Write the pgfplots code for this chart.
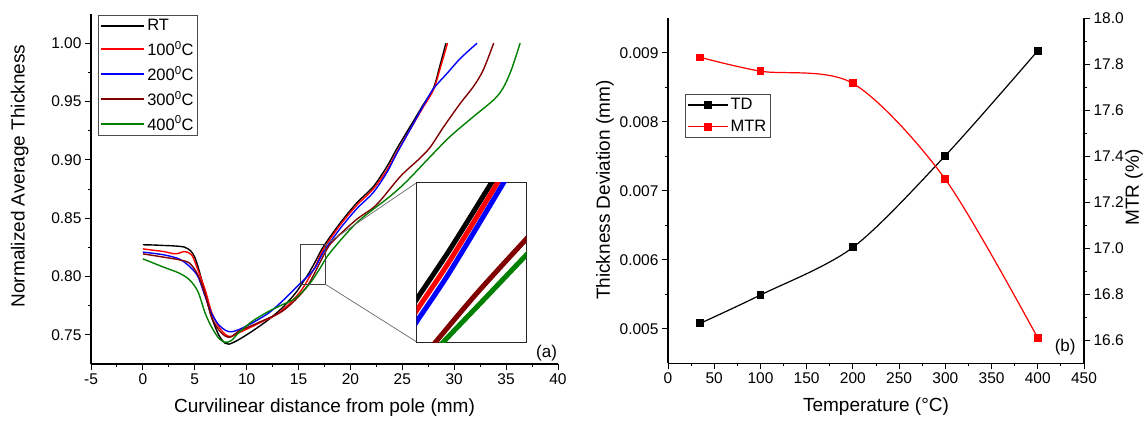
\documentclass[border=0pt]{standalone}
\usepackage{pgfplots}
\pgfplotsset{compat=1.18}
\usepackage{fontspec}
\setmainfont{Liberation Sans}
\definecolor{brn}{RGB}{128,0,0}
\definecolor{grn}{RGB}{0,128,0}
\begin{document}
\begin{tikzpicture}
\pgfplotsset{
  myaxis/.style={
    scale only axis,
    axis line style={-, line width=1.3pt},
    every outer x axis line/.append style={-},
    every outer y axis line/.append style={-},
    tick style={black, line width=1pt},
    major tick length=6pt, minor tick length=3pt,
    tick align=outside,
    tick label style={font=\fontsize{15.5}{17}\selectfont},
    label style={font=\fontsize{19}{22}\selectfont},
    /pgf/number format/assume math mode=true,
  }
}
% ---------------- panel (a) ----------------
\begin{axis}[myaxis, at={(91pt,57pt)}, anchor=south west, width=467pt, height=350pt,
  xmin=-5, xmax=40, ymin=0.725, ymax=1.025,
  axis x line*=bottom, axis y line*=left,
  xtick={-5,0,5,10,15,20,25,30,35,40},
  ytick={0.75,0.8,0.85,0.9,0.95,1.0},
  minor x tick num=1, minor y tick num=1,
  yticklabel style={/pgf/number format/.cd, fixed, fixed zerofill, precision=2},
  xlabel={Curvilinear distance from pole (mm)},
  ylabel={Normalized Average Thickness},
  xlabel style={at={(axis description cs:0.5,-0.1257)}, anchor=center},
  ylabel style={at={(axis description cs:-0.1527,0.537)}, anchor=center},
  legend style={at={(axis description cs:0.0156,0.997)}, anchor=north west,
    draw=black!70, line width=0.8pt, font=\fontsize{16.5}{19}\selectfont,
    cells={anchor=west}, inner sep=2pt, row sep=5pt},
  legend image code/.code={\draw[#1, line width=1.6pt] (0pt,0pt) -- (43pt,0pt);},
]
\addplot[draw=black, line width=1.4pt, smooth] coordinates {
(0,0.8272) (1,0.8270) (2,0.8266) (3,0.8262) (4,0.8252) (4.6,0.822) (5.0,0.8165)
(5.4,0.8057) (6.0,0.7857) (6.6,0.7657) (7.3,0.750) (7.9,0.7429) (8.3,0.742)
(9.2,0.7457) (10.5,0.7529) (12.1,0.763) (13.4,0.7729) (14.7,0.7857) (15.3,0.7935)
(16.0,0.803) (16.6,0.8125) (17.4,0.8257) (19.0,0.8457) (20.6,0.863) (22.2,0.877)
(23.5,0.894) (24.5,0.910) (25.75,0.9285) (27.0,0.947) (28.0,0.9614) (28.6,0.98) (29.2,1.00)};
\addlegendentry{RT}
\addplot[draw=red, line width=1.4pt, smooth] coordinates {
(0,0.8237) (1,0.8225) (2,0.8214) (3.0,0.8195) (3.5,0.8200) (4.0,0.8214) (4.7,0.8186)
(5.3,0.8057) (6.0,0.7886) (6.6,0.770) (7.3,0.757) (8.0,0.750) (8.5,0.7486) (9.2,0.7515)
(10.5,0.757) (11.5,0.7614) (12.8,0.767) (14.0,0.7757) (15.3,0.7886) (16.6,0.8085)
(17.4,0.8235) (19.0,0.844) (20.6,0.861) (22.2,0.875) (23.5,0.891) (24.5,0.907)
(25.75,0.926) (27.0,0.945) (28.0,0.960) (28.7,0.98) (29.35,1.00)};
\addlegendentry{100\textsuperscript{0}C}
\addplot[draw=blue, line width=1.4pt, smooth] coordinates {
(0,0.8209) (2,0.8186) (3.5,0.815) (4.5,0.8086) (5.3,0.80) (6.0,0.7829) (6.6,0.7686)
(7.3,0.7586) (8.0,0.7537) (8.5,0.7526) (9.2,0.7543) (10.5,0.76) (12.1,0.7686)
(13.4,0.7786) (14.7,0.79) (16.0,0.8014) (16.6,0.8075) (17.4,0.821) (19.0,0.841)
(20.6,0.858) (22.2,0.872) (23.5,0.889) (24.5,0.906) (25.75,0.926) (27.0,0.946)
(28.0,0.961) (29.3,0.974) (30.6,0.987) (32.2,1.00)};
\addlegendentry{200\textsuperscript{0}C}
\addplot[draw=brn, line width=1.4pt, smooth] coordinates {
(0,0.8194) (2,0.8166) (3.5,0.8143) (4.5,0.8114) (5.3,0.8014) (6.0,0.7843) (6.6,0.7657)
(7.3,0.7543) (8.0,0.7486) (8.5,0.7483) (9.2,0.7529) (10.5,0.758) (12.1,0.7643)
(13.4,0.770) (14.7,0.780) (16.0,0.794) (17.7,0.8229) (18.5,0.832) (20.6,0.849)
(22.5,0.8614) (24.8,0.8857) (26.7,0.9014) (27.7,0.911) (29.0,0.9285) (30.6,0.9486)
(31.85,0.9628) (32.8,0.977) (33.8,1.00)};
\addlegendentry{300\textsuperscript{0}C}
\addplot[draw=grn, line width=1.4pt, smooth] coordinates {
(0,0.8151) (2,0.808) (3.5,0.8029) (4.5,0.7971) (5.3,0.7871) (6.0,0.7686) (6.6,0.757)
(7.3,0.7472) (7.9,0.7437) (8.5,0.7449) (9.2,0.7515) (10.5,0.7614) (12.1,0.770)
(13.4,0.7757) (14.7,0.7814) (16.0,0.793) (17.0,0.806) (18.0,0.820) (20.6,0.846)
(23.8,0.8686) (25.4,0.8814) (27.7,0.9028) (29.6,0.920) (31.85,0.937) (33.8,0.9514)
(34.7,0.9614) (35.5,0.977) (36.35,1.00)};
\addlegendentry{400\textsuperscript{0}C}
\draw[black!75, line width=0.8pt] (axis cs:15.15,0.7935) rectangle (axis cs:17.56,0.8271);
\draw[black!60, line width=0.7pt] (axis cs:17.56,0.8271) -- (axis cs:26.4,0.8805);
\draw[black!60, line width=0.7pt] (axis cs:17.56,0.7935) -- (axis cs:26.4,0.7438);
\node[font=\fontsize{17}{20}\selectfont] at (axis cs:38.9,0.7346) {(a)};
\end{axis}
% inset
\begin{axis}[at={(416.7pt,78.7pt)}, anchor=south west, scale only axis,
  width=110pt, height=159.6pt, xmin=0, xmax=1, ymin=0, ymax=1,
  xtick=\empty, ytick=\empty, axis line style={line width=1.3pt, black!85},
  axis background/.style={fill=white}]
\addplot[black, line width=5pt, smooth] coordinates {(-0.1,0.155) (0,0.27) (0.3,0.58) (0.68,1.0) (0.75,1.08)};
\addplot[red, line width=5pt, smooth] coordinates {(-0.1,0.085) (0,0.20) (0.3,0.51) (0.735,1.0) (0.8,1.08)};
\addplot[blue, line width=5pt, smooth] coordinates {(-0.1,0.015) (0,0.13) (0.3,0.44) (0.79,1.0) (0.86,1.08)};
\addplot[brn, line width=5pt, smooth] coordinates {(0.08,-0.08) (0.17,0) (0.55,0.31) (1.0,0.65) (1.1,0.72)};
\addplot[grn, line width=5pt, smooth] coordinates {(0.15,-0.08) (0.24,0) (0.6,0.26) (1.0,0.55) (1.1,0.62)};
\end{axis}
% ---------------- panel (b) ----------------
\begin{axis}[myaxis, at={(668pt,57.7pt)}, anchor=south west, width=416pt, height=345pt,
  xmin=0, xmax=450, ymin=0.0045, ymax=0.0095,
  axis x line*=bottom, axis y line*=left,
  xtick={0,50,100,150,200,250,300,350,400,450},
  ytick={0.005,0.006,0.007,0.008,0.009},
  minor x tick num=1, minor y tick num=1,
  scaled y ticks=false,
  yticklabel style={/pgf/number format/.cd, fixed, fixed zerofill, precision=3},
  xlabel={Temperature (°C)},
  ylabel={Thickness Deviation (mm)},
  xlabel style={at={(axis description cs:0.5,-0.126)}, anchor=center},
  ylabel style={at={(axis description cs:-0.1514,0.502)}, anchor=center},
  legend style={at={(axis description cs:0.041,0.78)}, anchor=north west,
    draw=black!70, line width=0.8pt, font=\fontsize{16.5}{19}\selectfont,
    cells={anchor=west}, inner sep=2pt, row sep=5pt},
  legend image code/.code={\draw[mark repeat=2, mark phase=2, #1] plot coordinates {(0pt,0pt) (20pt,0pt) (40pt,0pt)};},
]
\addplot[black, line width=1.2pt, smooth, mark=square*, mark size=3.3pt, mark options={solid}] coordinates {
(35,0.00508) (100,0.00549) (200,0.00618) (300,0.00751) (400,0.00903)};
\addlegendentry{TD}
\addlegendimage{red, line width=1.2pt, mark=square*, mark size=3.3pt}
\addlegendentry{MTR}
\node[font=\fontsize{17}{20}\selectfont] at (axis cs:429.6,0.00474) {(b)};
\end{axis}
\begin{axis}[myaxis, at={(668pt,57.7pt)}, anchor=south west, width=416pt, height=345pt,
  xmin=0, xmax=450, ymin=16.5, ymax=18.0,
  axis x line=none, axis y line*=right,
  ytick={16.6,16.8,17.0,17.2,17.4,17.6,17.8,18.0},
  minor y tick num=1,
  yticklabel style={/pgf/number format/.cd, fixed, fixed zerofill, precision=1},
]
\addplot[red, line width=1.2pt, smooth, mark=square*, mark size=3.3pt] coordinates {
(35,17.83) (100,17.77) (200,17.717) (300,17.30) (400,16.61)};
\end{axis}
\node[rotate=90, font=\fontsize{19}{22}\selectfont, anchor=center, inner sep=0pt] at (1134pt,233.5pt) {MTR (\%)};
\pgfresetboundingbox
\path[use as bounding box] (0pt,0pt) rectangle (1145pt,421pt);
\end{tikzpicture}
\end{document}
